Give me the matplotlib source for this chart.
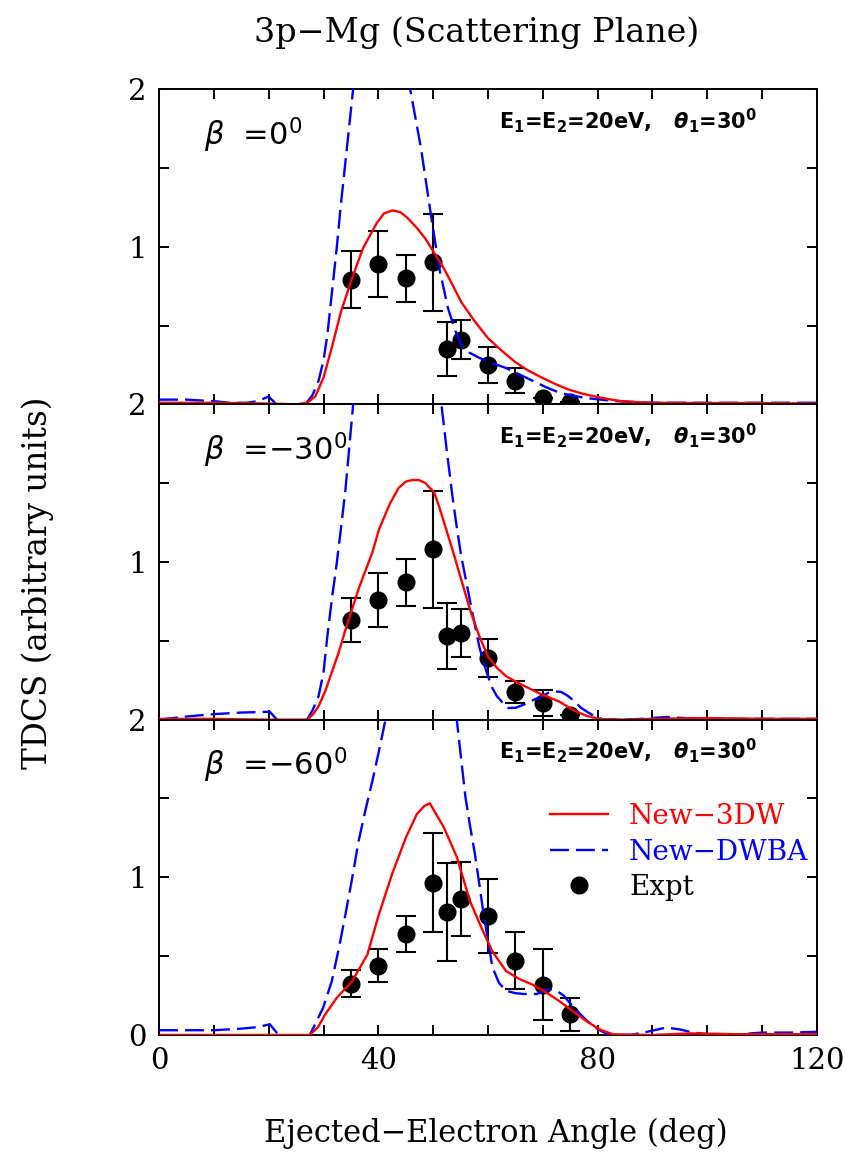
# TDCS 3p-Mg, plano de dispersion: tres paneles (beta = 0, -30, -60)
import numpy as np
import matplotlib
matplotlib.use("Agg")
import matplotlib.pyplot as plt
from matplotlib.lines import Line2D

plt.rcParams['font.family'] = 'DejaVu Serif'
plt.rcParams['mathtext.fontset'] = 'dejavusans'

# ---- datos experimentales (comunes en x) ----
x_exp = [35, 40, 45, 50, 52.5, 55, 60, 65, 70, 75]

y_exp_0 = [0.79, 0.89, 0.80, 0.90, 0.35, 0.41, 0.25, 0.15, 0.04, 0.017]
err_0 = [0.18, 0.21, 0.15, 0.31, 0.17, 0.125, 0.115, 0.08, 0.0, 0.0]

y_exp_30 = [0.63, 0.76, 0.87, 1.08, 0.53, 0.55, 0.39, 0.175, 0.105, 0.03]
err_30 = [0.14, 0.17, 0.15, 0.37, 0.21, 0.155, 0.12, 0.068, 0.08, 0.0]

y_exp_60 = [0.325, 0.44, 0.64, 0.966, 0.78, 0.86, 0.755, 0.47, 0.32, 0.13]
err_60 = [0.085, 0.105, 0.115, 0.315, 0.31, 0.235, 0.235, 0.18, 0.225, 0.105]

# ---- New-3DW ----
x_3dw_0 = [0, 10, 20, 25, 27, 28.5, 30, 31.5, 33.2, 35.2, 37.2, 39.7, 41, 42.5, 44, 45.4, 47,
           48.6, 50.2, 51.9, 53.5, 55.1, 57.5, 60, 62.5, 64.9, 67.3, 69.8, 72.2, 74.6, 77,
           79.5, 82, 84.4, 87, 90, 100, 110, 120]
y_3dw_0 = [0.01, 0.01, 0.005, 0.0, 0.01, 0.05, 0.17, 0.36, 0.59, 0.80, 0.99, 1.15, 1.21, 1.23,
           1.22, 1.18, 1.12, 1.05, 0.96, 0.865, 0.76, 0.65, 0.53, 0.42, 0.34, 0.27, 0.215,
           0.17, 0.13, 0.095, 0.07, 0.05, 0.033, 0.02, 0.014, 0.01, 0.008, 0.008, 0.005]

x_3dw_30 = [0, 10, 20, 25, 27, 28, 29.1, 30.3, 31.5, 32.8, 34, 35.2, 36.4, 38.9, 40.1, 42.1,
            43.7, 45, 46.2, 47.4, 48.6, 50.2, 51.1, 53.5, 55.1, 56.7, 58.4, 60, 61.6, 63.3,
            65.7, 67.7, 69.8, 73, 75.4, 77.9, 80.3, 85, 90, 100, 110, 120]
y_3dw_30 = [0.005, 0.005, 0.0, 0.0, 0.0, 0.03, 0.085, 0.18, 0.3, 0.43, 0.57, 0.70, 0.83, 1.06,
            1.205, 1.37, 1.47, 1.51, 1.52, 1.52, 1.50, 1.44, 1.35, 1.08, 0.89, 0.70, 0.53,
            0.40, 0.33, 0.275, 0.23, 0.195, 0.16, 0.115, 0.063, 0.025, 0.004, 0.0, 0.005,
            0.01, 0.005, 0.005]

x_3dw_60 = [0, 10, 20, 25, 27.5, 29, 30.3, 32.4, 35.2, 38, 40.1, 42.5, 45, 47, 48.3, 49.4,
            50.2, 51.9, 54.3, 56.7, 58.8, 60.8, 63.3, 65.7, 68.1, 70.6, 73, 75.5, 77.9, 80.3,
            82.8, 90, 97, 105, 120]
y_3dw_60 = [0.0, 0.0, 0.0, 0.0, 0.0, 0.05, 0.13, 0.235, 0.34, 0.51, 0.765, 1.02, 1.25, 1.40,
            1.45, 1.47, 1.42, 1.32, 1.13, 0.85, 0.68, 0.53, 0.405, 0.355, 0.32, 0.27, 0.215,
            0.15, 0.089, 0.036, 0.004, 0.0, 0.01, 0.005, 0.005]

# ---- New-DWBA ----
x_dw_0 = [0, 5, 10, 13, 16, 18, 20, 21.4, 23, 25, 26.7, 28, 29.1, 30, 30.7, 31.5, 32.4, 33.2,
          34, 35.4, 40.5, 45.8, 47.8, 49.4, 51.1, 52.7, 54, 55.1, 56.5, 58.4, 60.5, 63.3, 65.7,
          68.1, 70.5, 73, 75.5, 77.9, 80.5, 83.6, 90, 100, 110, 120]
y_dw_0 = [0.03, 0.03, 0.02, 0.01, 0.01, 0.02, 0.05, 0.0, -0.05, -0.05, 0.0, 0.06, 0.15, 0.28,
          0.44, 0.7, 0.99, 1.28, 1.54, 2.0, 3.0, 2.0, 1.62, 1.245, 0.865, 0.61, 0.47, 0.38,
          0.33, 0.295, 0.265, 0.23, 0.19, 0.15, 0.11, 0.074, 0.055, 0.04, 0.03, 0.02, 0.01,
          0.01, 0.01, 0.01]

x_dw_30 = [0, 5, 10, 15, 20.2, 21.5, 23, 25, 27, 28, 29.1, 30, 30.7, 31.5, 32.4, 33.2, 34,
           35.4, 43, 51.5, 52.5, 53.5, 54.3, 55.1, 56, 56.8, 57.6, 58.4, 59.2, 60, 60.8, 61.6,
           62.6, 63.7, 65, 66.5, 68, 69.8, 71, 72.2, 73.4, 74.6, 75.8, 77, 78.3, 79.5, 81.1,
           85, 88, 92.5, 96, 100, 110, 120]
y_dw_30 = [0.0, 0.02, 0.035, 0.045, 0.05, 0.0, -0.05, -0.05, 0.0, 0.06, 0.15, 0.3, 0.53, 0.76,
           0.99, 1.22, 1.46, 2.0, 3.5, 2.0, 1.7, 1.42, 1.22, 1.04, 0.88, 0.74, 0.6, 0.465,
           0.36, 0.275, 0.2, 0.15, 0.11, 0.074, 0.075, 0.095, 0.12, 0.15, 0.17, 0.18, 0.175,
           0.15, 0.115, 0.074, 0.045, 0.02, 0.0, 0.0, 0.005, 0.017, 0.01, 0.005, 0.005, 0.005]

x_dw_60 = [0, 10, 15, 18.1, 20.2, 21.8, 23, 26, 27.5, 29.9, 31.5, 32.8, 34, 35.2, 36.4, 37.6,
           38.9, 40.1, 41.3, 48, 54.3, 55.1, 55.9, 56.7, 57.6, 58.4, 59.2, 60, 60.8, 62, 63.3,
           65, 66.5, 68.9, 70.1, 71.3, 72.5, 73.8, 75, 76.3, 77.9, 79.5, 82, 86, 89, 92.5, 95,
           97.4, 100, 104, 110, 115, 120]
y_dw_60 = [0.03, 0.03, 0.04, 0.05, 0.068, 0.0, -0.05, -0.05, 0.0, 0.17, 0.34, 0.55, 0.765,
           0.99, 1.23, 1.42, 1.61, 1.80, 2.0, 3.5, 2.0, 1.75, 1.505, 1.33, 1.15, 0.96, 0.765,
           0.6, 0.43, 0.33, 0.28, 0.265, 0.26, 0.26, 0.275, 0.29, 0.28, 0.25, 0.2, 0.15, 0.095,
           0.047, 0.0, 0.0, 0.02, 0.047, 0.035, 0.015, 0.005, 0.0, 0.015, 0.015, 0.02]

beta_labels = [r"$\beta$  =0$^0$", r"$\beta$  =−30$^0$", r"$\beta$  =−60$^0$"]
energy_label = r"E$_\mathbf{1}$=E$_\mathbf{2}$=20eV,   $\boldsymbol{\theta}_\mathbf{1}$=30$^\mathbf{0}$"

paneles = [
    (x_3dw_0, y_3dw_0, x_dw_0, y_dw_0, y_exp_0, err_0),
    (x_3dw_30, y_3dw_30, x_dw_30, y_dw_30, y_exp_30, err_30),
    (x_3dw_60, y_3dw_60, x_dw_60, y_dw_60, y_exp_60, err_60),
]

fig = plt.figure(figsize=(8.46, 11.52), dpi=100)
left, right = 0.1880, 0.9657
bottom, top = 0.1016, 0.9227
h = (top - bottom) / 3

lw = 1.7
dash = (0, (8, 3))
for i, (xr, yr, xb, yb, ye, ee) in enumerate(paneles):
    ax = fig.add_axes([left, top - (i + 1) * h, right - left, h])
    ax.errorbar(x_exp, ye, yerr=ee, fmt="o", color="black", markersize=12,
                elinewidth=1.5, capsize=7, capthick=1.5, zorder=2)
    ax.plot(xb, yb, color="blue", linestyle=dash, linewidth=lw, zorder=3)
    ax.plot(xr, yr, color="red", linewidth=lw, zorder=4)

    ax.set_xlim(0, 120)
    ax.set_ylim(0, 2)
    ax.set_xticks(np.arange(0, 121, 10))
    ax.set_yticks([0, 0.5, 1, 1.5, 2])
    if i < 2:
        ax.set_xticklabels([])
        ax.set_yticklabels(["", "", "1", "", "2"])
    else:
        ax.set_xticklabels(["0", "", "", "", "40", "", "", "", "80", "", "", "", "120"])
        ax.set_yticklabels(["0", "", "1", "", "2"])
    ax.tick_params(direction="in", length=7, width=1.4, top=True, right=True,
                   labelsize=21)
    ax.tick_params(axis="x", pad=9)
    ax.tick_params(axis="y", pad=9)
    for s in ax.spines.values():
        s.set_linewidth(1.4)

    ax.text(0.068, 0.822, beta_labels[i], transform=ax.transAxes, fontsize=22,
            family="DejaVu Sans", va="baseline")
    ax.text(0.517, 0.876, energy_label, transform=ax.transAxes, fontsize=15,
            family="DejaVu Sans", fontweight="bold", va="baseline")

    if i == 2:
        handles = [Line2D([], [], color="red", linewidth=lw),
                   Line2D([], [], color="blue", linestyle=dash, linewidth=lw),
                   Line2D([], [], color="black", marker="o", linestyle="none", markersize=12)]
        leg = ax.legend(handles, ["New−3DW", "New−DWBA", "Expt"], loc="upper left",
                        bbox_to_anchor=(0.594, 0.735), frameon=False, fontsize=20,
                        handlelength=2.1, handletextpad=0.75, labelspacing=0.3,
                        borderpad=0, borderaxespad=0)
        for t, c in zip(leg.get_texts(), ["red", "blue", "black"]):
            t.set_color(c)

fig.text(0.563, 0.972, "3p−Mg (Scattering Plane)", ha="center", va="center", fontsize=24)
fig.text(0.586, 0.0165, "Ejected−Electron Angle (deg)", ha="center", va="center", fontsize=22)
fig.text(0.045, 0.494, "TDCS (arbitrary units)", ha="center", va="center", fontsize=23.5,
         rotation=90)

plt.savefig("out.png", dpi=100)
